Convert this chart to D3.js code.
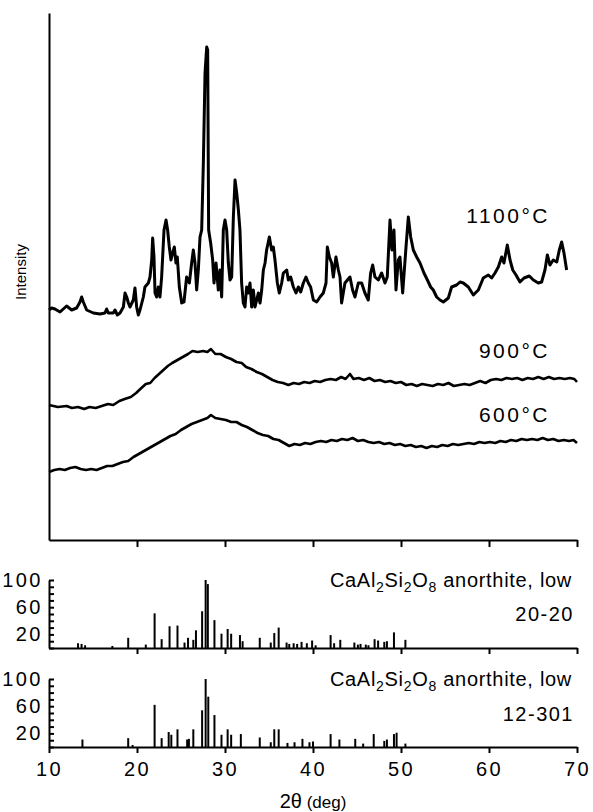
<!DOCTYPE html>
<html><head><meta charset="utf-8">
<script src="https://cdn.jsdelivr.net/npm/d3@7/dist/d3.min.js"></script>
<style>body{margin:0;background:#fff}svg{display:block}</style>
</head><body><svg id="c" width="593" height="812"></svg>
<script>
// ---------- data ----------
const xTickValues = [10, 20, 30, 40, 50, 60, 70];
const pdfTickValues = [0, 10, 20, 30, 40, 50, 60, 70, 80, 90, 100];
const pdfTickLabels = [20, 60, 100];

// measured patterns: [2θ (deg), intensity (arbitrary units, stacked)]
const trace1100 = [[10.0,230],[10.3,232],[10.68,231],[11.25,228],[12.0,234],[12.58,230],[13.14,232],[13.52,238],[13.71,243],[13.9,238],[14.28,230],[15.04,227],[15.8,226],[16.36,227],[16.55,231],[16.74,227],[17.31,227],[17.5,230],[17.77,225],[18.07,227],[18.45,233],[18.64,247],[18.83,243],[19.02,237],[19.2,233],[19.58,240],[19.77,252],[19.96,233],[20.15,225],[20.34,230],[20.72,243],[20.9,253],[21.29,257],[21.48,263],[21.67,280],[21.78,302],[21.93,283],[22.05,247],[22.23,243],[22.42,253],[22.61,243],[22.8,263],[23.07,310],[23.3,320],[23.48,310],[23.67,293],[23.86,280],[24.05,287],[24.24,293],[24.43,277],[24.58,283],[24.81,253],[25.08,237],[25.34,238],[25.64,263],[25.95,257],[26.21,277],[26.4,290],[26.59,277],[26.78,250],[26.97,270],[27.16,303],[27.35,310],[27.54,377],[27.73,467],[27.92,493],[28.03,490],[28.14,310],[28.37,297],[28.6,280],[28.75,257],[28.98,277],[29.24,250],[29.43,270],[29.62,243],[29.81,310],[30.0,320],[30.19,310],[30.38,277],[30.57,260],[30.76,263],[30.95,323],[31.14,360],[31.33,347],[31.52,330],[31.7,310],[31.89,257],[32.08,237],[32.27,233],[32.46,253],[32.65,247],[32.84,257],[33.03,233],[33.22,250],[33.41,233],[33.79,247],[33.98,237],[34.17,250],[34.36,270],[34.55,277],[34.73,290],[35.04,303],[35.3,290],[35.49,293],[35.68,280],[35.95,257],[36.17,247],[36.44,257],[36.63,267],[37.01,270],[37.2,260],[37.46,263],[37.77,253],[38.07,247],[38.33,253],[38.6,248],[38.9,257],[39.2,263],[39.47,257],[39.73,253],[40.04,240],[40.42,238],[40.8,243],[41.17,247],[41.48,257],[41.63,293],[41.86,283],[42.12,277],[42.31,263],[42.61,283],[42.88,270],[43.07,263],[43.25,237],[43.63,257],[44.2,263],[44.5,250],[44.77,243],[45.15,257],[45.53,257],[45.9,247],[46.28,240],[46.55,267],[46.78,275],[47.04,263],[47.42,260],[47.8,267],[48.18,257],[48.44,263],[48.75,320],[48.97,290],[49.2,310],[49.43,250],[49.7,280],[49.88,283],[50.19,247],[50.57,293],[50.83,323],[51.1,303],[51.4,290],[51.78,283],[52.16,277],[52.61,267],[53.0,260],[53.37,253],[53.67,250],[54.05,243],[54.43,240],[54.81,238],[55.38,242],[55.75,253],[56.32,255],[56.7,258],[57.08,257],[57.65,253],[58.22,245],[58.79,250],[59.35,262],[59.92,265],[60.3,262],[60.68,267],[61.06,273],[61.44,283],[61.7,277],[62.08,295],[62.39,280],[62.7,270],[63.07,265],[63.52,258],[63.98,262],[64.58,264],[65.04,260],[65.6,257],[65.98,258],[66.36,270],[66.63,285],[66.93,275],[67.3,280],[67.7,278],[67.99,290],[68.26,298],[68.52,287],[68.82,270]];

const trace900 = [[10,135],[11,133],[12,134],[12.6,132],[13.3,133],[14,131],[14.6,133],[15.3,132],[16,134],[16.7,136],[17.3,135],[18,139],[18.6,141],[19.3,143],[19.9,147],[20.5,152],[21,156],[21.5,157],[22,162],[22.5,166],[23,170],[23.5,174],[24,177],[24.6,180],[25.2,183],[25.8,186],[26.3,189],[26.9,188],[27.5,189],[28,188],[28.4,191],[28.9,186],[29.5,186],[30.1,183],[30.7,181],[31.3,178],[31.9,177],[32.4,173],[33,171],[33.6,168],[34.2,166],[34.8,163],[35.4,160],[36,158],[36.6,157],[37.2,155],[37.8,157],[38.4,156],[39,158],[39.6,157],[40.2,159],[40.8,158],[41.4,160],[42,161],[42.6,160],[43.2,163],[43.7,161],[44.2,166],[44.6,161],[45.2,162],[45.8,160],[46.4,162],[47,159],[47.6,160],[48.2,158],[48.8,159],[49.4,157],[50,158],[50.6,155],[51.2,156],[51.8,154],[52.4,156],[53,155],[53.6,154],[54.2,156],[54.8,155],[55.4,157],[56,154],[56.6,155],[57.2,156],[57.8,155],[58.4,157],[59,159],[59.6,157],[60.2,160],[60.8,161],[61.4,160],[62,162],[62.6,161],[63.2,162],[63.8,160],[64.4,162],[65,161],[65.6,163],[66.2,161],[66.8,163],[67.4,161],[68,162],[68.6,161],[69.2,162],[69.7,161],[70,158]];

const trace600 = [[10,68],[10.6,70],[11.2,71],[11.8,70],[12.4,72],[13,73],[13.6,71],[14.2,70],[14.8,71],[15.4,70],[16,72],[16.6,74],[17.2,74],[17.8,76],[18.4,78],[19,79],[19.6,83],[20.2,86],[20.8,89],[21.4,92],[22,95],[22.6,98],[23.2,101],[23.8,104],[24.4,106],[25,110],[25.6,113],[26.2,116],[26.8,118],[27.4,120],[28,122],[28.4,125],[28.9,122],[29.5,121],[30.1,120],[30.7,118],[31.3,118],[31.9,115],[32.5,113],[33.1,110],[33.7,107],[34.3,105],[34.9,104],[35.5,101],[36.1,100],[36.7,97],[37.3,94],[37.9,96],[38.5,95],[39.1,97],[39.7,96],[40.3,98],[40.9,99],[41.5,98],[42.1,100],[42.7,99],[43.3,101],[43.9,100],[44.5,102],[45.1,99],[45.7,100],[46.3,98],[46.9,97],[47.5,98],[48.1,96],[48.7,97],[49.3,95],[49.9,96],[50.5,94],[51.1,95],[51.7,93],[52.3,94],[52.9,92],[53.5,94],[54.1,93],[54.7,95],[55.3,94],[55.9,96],[56.5,95],[57.1,96],[57.7,97],[58.3,96],[58.9,98],[59.5,97],[60.1,98],[60.7,97],[61.3,99],[61.9,98],[62.5,100],[63.1,99],[63.7,101],[64.3,100],[64.9,101],[65.5,100],[66.1,102],[66.7,100],[67.3,101],[67.9,99],[68.5,100],[69.1,99],[69.6,100],[70,97]];

// reference pattern PDF 20-20 (relative intensity %)
const pdf1Theta = [13.3,13.7,14.1,17.2,19.0,21.0,22.0,22.8,23.7,24.6,25.4,25.8,26.4,26.7,27.4,27.8,28.05,28.8,29.6,30.3,30.7,31.7,32.0,33.95,35.2,35.6,36.1,37.0,37.3,37.8,38.2,38.7,39.3,39.9,40.3,42.0,42.4,43.1,44.7,45.1,45.4,46.0,46.3,47.0,47.4,48.1,48.4,49.2,50.5];
const pdf1Int = [7,6,4,3,15,5,51,13,32,33,8,15,12,26,54,100,94,41,21,28,21,19,10,15,8,22,30,8,6,7,6,9,7,11,4,19,7,12,8,5,6,5,4,13,11,9,10,23,12];

// reference pattern PDF 12-301
const pdf2Theta = [13.8,19.0,19.5,22.0,22.8,23.6,23.9,24.6,25.7,25.9,26.4,27.4,27.8,28.1,28.8,29.6,30.3,30.7,31.8,33.95,35.2,35.6,36.1,37.1,37.9,38.8,39.6,40.0,42.0,43.0,44.8,45.7,46.9,48.1,48.4,49.2,49.5,50.5];
const pdf2Int = [11,13,3,62,13,22,18,26,11,12,26,54,100,74,47,18,26,18,19,14,7,26,26,6,7,12,7,8,19,11,12,5,19,9,11,19,21,5];

const tempLabels = ["1100°C", "900°C", "600°C"];
const pdfCodes = ["20-20", "12-301"];
const yTitle = "Intensity";

// ---------- drawing ----------
const svg = d3.select("#c");
svg.append("rect").attr("width",593).attr("height",812).attr("fill","#fff");
const FONT = "'Liberation Sans', Arial, Helvetica, sans-serif";

const x = d3.scaleLinear().domain([10,70]).range([49,577]);
const yTop = d3.scaleLinear().domain([0,527]).range([540,13]);
const yP1 = d3.scaleLinear().domain([0,100]).range([648,580]);
const yP2 = d3.scaleLinear().domain([0,100]).range([747,679]);

function styleAxis(g){
  g.selectAll(".domain").attr("stroke","#000").attr("stroke-width",2);
  g.selectAll(".tick line").attr("stroke","#000").attr("stroke-width",2);
  g.selectAll("text").attr("fill","#000").style("font-family",FONT);
}

// top panel axes
svg.append("g").attr("transform","translate(49,0)")
  .call(d3.axisLeft(yTop).tickValues([]).tickSizeOuter(0))
  .call(styleAxis);
svg.append("g").attr("transform","translate(0,540)")
  .call(d3.axisBottom(x).tickValues(xTickValues.slice(1)).tickSize(7).tickSizeOuter(0).tickFormat(""))
  .call(styleAxis);

const line = d3.line().x(d=>x(d[0])).y(d=>yTop(d[1]));
[[trace1100,3],[trace900,2.6],[trace600,2.6]].forEach(([data,w])=>{
  svg.append("path").datum(data)
    .attr("d",line).attr("fill","none").attr("stroke","#000")
    .attr("stroke-width",w).attr("stroke-linejoin","round");
});

// temperature labels
const tempPos = [[550,223],[550,358],[550,422]];
tempLabels.forEach((t,i)=>{
  svg.append("text").attr("x",tempPos[i][0]).attr("y",tempPos[i][1])
    .attr("text-anchor","end").style("font-family",FONT).style("font-size","21px")
    .style("letter-spacing","2.5px").text(t);
});

// y title
svg.append("text").attr("transform","translate(26,272) rotate(-90)")
  .attr("text-anchor","middle").style("font-family",FONT).style("font-size","15px")
  .text(yTitle);

// reference patterns
function pdfPanel(yS, thetas, ints, code, labelY, codeY, showX){
  svg.append("g").attr("transform","translate(49,0)")
    .call(d3.axisLeft(yS).tickValues(pdfTickValues).tickSize(-5).tickSizeOuter(0).tickPadding(6)
      .tickFormat(d=>pdfTickLabels.includes(d)?d:""))
    .call(styleAxis)
    .call(g=>g.selectAll("text").style("font-size","20px").style("letter-spacing","2.5px"));
  const xa = d3.axisBottom(x).tickSize(6).tickSizeOuter(0).tickPadding(9);
  if(showX){ xa.tickValues(xTickValues); } else { xa.tickValues(xTickValues.slice(1)).tickFormat(""); }
  svg.append("g").attr("transform",`translate(0,${yS(0)})`)
    .call(xa).call(styleAxis)
    .call(g=>g.selectAll("text").style("font-size","20px").style("letter-spacing","2.5px"));
  svg.append("g").selectAll("line").data(thetas.map((t,i)=>[t,ints[i]])).join("line")
    .attr("x1",d=>x(d[0])).attr("x2",d=>x(d[0]))
    .attr("y1",yS(0)).attr("y2",d=>yS(d[1]))
    .attr("stroke","#000").attr("stroke-width",2);
  const lab = svg.append("text").attr("x",572).attr("y",labelY).attr("text-anchor","end")
    .style("font-family",FONT).style("font-size","20px").style("letter-spacing","0.7px");
  const parts = [["Ca",0],["Al",0],["2",1],["Si",0],["2",1],["O",0],["8",1],[" anorthite, low",0]];
  let sub=false;
  parts.forEach(p=>{
    const ts = lab.append("tspan").text(p[0]);
    if(p[1]){ ts.style("font-size","14px"); if(!sub){ ts.attr("dy",5); sub=true; } }
    else if(sub){ ts.attr("dy",-5); sub=false; }
  });
  svg.append("text").attr("x",574).attr("y",codeY).attr("text-anchor","end")
    .style("font-family",FONT).style("font-size","20px").style("letter-spacing","1.5px").text(code);
}
pdfPanel(yP1, pdf1Theta, pdf1Int, pdfCodes[0], 587, 621, false);
pdfPanel(yP2, pdf2Theta, pdf2Int, pdfCodes[1], 686, 721, true);

// x title
const xt = svg.append("text").attr("x",313).attr("y",808).attr("text-anchor","middle")
  .style("font-family",FONT).style("font-size","20px");
xt.append("tspan").text("2θ");
xt.append("tspan").style("font-size","17px").text(" (deg)");
</script></body></html>
